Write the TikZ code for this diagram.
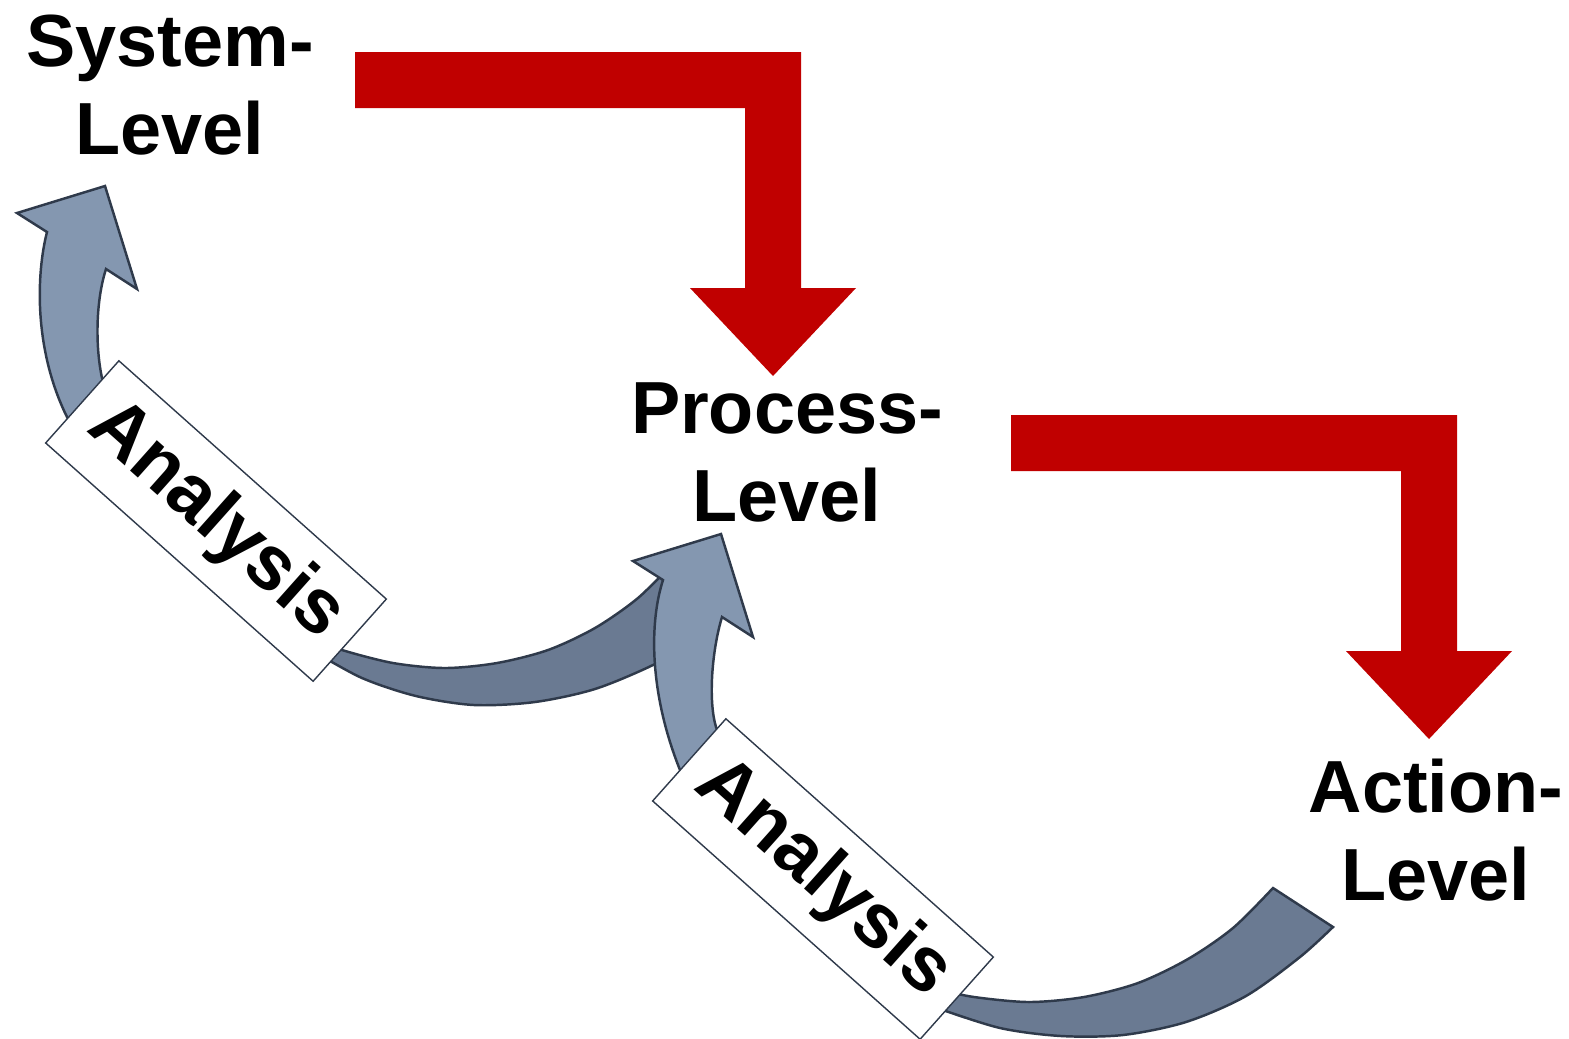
\documentclass[tikz,border=0pt]{standalone}
\usepackage{fontspec}
\setmainfont{Liberation Sans}
\usetikzlibrary{calc}

\definecolor{stepred}{HTML}{C00000}
\definecolor{arrowlight}{HTML}{8497B0}
\definecolor{arrowdark}{HTML}{6A7A92}
\definecolor{arrowline}{HTML}{2F3A4B}

\tikzset{
  levelname/.style={font=\fontsize{21pt}{25pt}\selectfont\bfseries, align=center, inner sep=0pt},
  tagbox/.style={draw=arrowline, line width=0.4pt, fill=white, inner sep=0pt,
    minimum width=3.58cm, minimum height=1.1cm, font=\fontsize{21.8pt}{26pt}\selectfont\bfseries},
  frontpart/.style={fill=arrowlight, draw=arrowline, line width=0.7pt},
  backpart/.style={fill=arrowdark, draw=arrowline, line width=0.7pt},
}

\begin{document}
\begin{tikzpicture}[x=0.01cm, y=-0.01cm]

\useasboundingbox (0,0) rectangle (1569,1038);
\clip (0,0) rectangle (1569,1038);

% red step arrows
\coordinate (S1) at (355,52);
\coordinate (S2) at ($(S1) + (656,363)$);

\fill[stepred] (S1) -- ++(446,0) -- ++(0,236) -- ++(55,0) -- ++(-83,88)
  -- ++(-83,-88) -- ++(55,0) -- ++(0,-180) -- ++(-390,0) -- cycle;
\fill[stepred] (S2) -- ++(446,0) -- ++(0,236) -- ++(55,0) -- ++(-83,88)
  -- ++(-83,-88) -- ++(55,0) -- ++(0,-180) -- ++(-390,0) -- cycle;

% arrow heads of the two curved arrows
\coordinate (A) at (105,186);
\coordinate (A1) at ($(A) + (-88,27)$);
\coordinate (A2) at ($(A) + (-58,46)$);
\coordinate (A3) at ($(A) + (1,83)$);
\coordinate (A4) at ($(A) + (32,103)$);

\coordinate (B) at ($(A) + (616,348)$);
\coordinate (B1) at ($(B) + (-88,27)$);
\coordinate (B2) at ($(B) + (-58,46)$);
\coordinate (B3) at ($(B) + (1,83)$);
\coordinate (B4) at ($(B) + (32,103)$);

% first curved arrow
\filldraw[backpart] plot[smooth] coordinates {(318,640) (342,650) (393,663) (445,668) (497,663)
    (548,650) (595,628) (638,598) (675,561)}
  -- plot[smooth] coordinates {(692,642) (653,665) (595,689) (535,702) (474,705) (416,696)
    (362,678) (313,651)}
  -- cycle;

\filldraw[frontpart] (A2) -- (A1) -- (A) -- (A4) -- (A3)
  .. controls (96,300) and (95,345) .. (102,378) -- (118,410)
  -- (85,445) -- (67,417)
  .. controls (34,350) and (36,275) .. (A2)
  -- cycle;

\node[tagbox, rotate=-41.7] (tag1) at (216,521) {Analysis};

% second curved arrow
\filldraw[backpart] plot[smooth] coordinates {(941,990) (974,997) (1029,1002) (1084,997)
    (1138,983) (1188,959) (1233,928) (1273,888)}
  -- (1333,927)
  -- plot[smooth] coordinates {(1333,927) (1300,957) (1246,996) (1186,1022) (1123,1035)
    (1061,1036) (1000,1028) (937,1008)}
  -- cycle;

\filldraw[frontpart] (B2) -- (B1) -- (B) -- (B4) -- (B3)
  .. controls (712,650) and (708,700) .. (716,727) -- (733,765)
  -- (695,795) -- (680,770)
  .. controls (648,690) and (650,620) .. (B2)
  -- cycle;

\node[tagbox, rotate=-41.7] (tag2) at (823,879) {Analysis};

% level names
\node[levelname] (system) at (170,85) {System-\\Level};
\node[levelname] (process) at (787,452) {Process-\\Level};
\node[levelname] (action) at (1436,830) {Action-\\Level};

\end{tikzpicture}
\end{document}
